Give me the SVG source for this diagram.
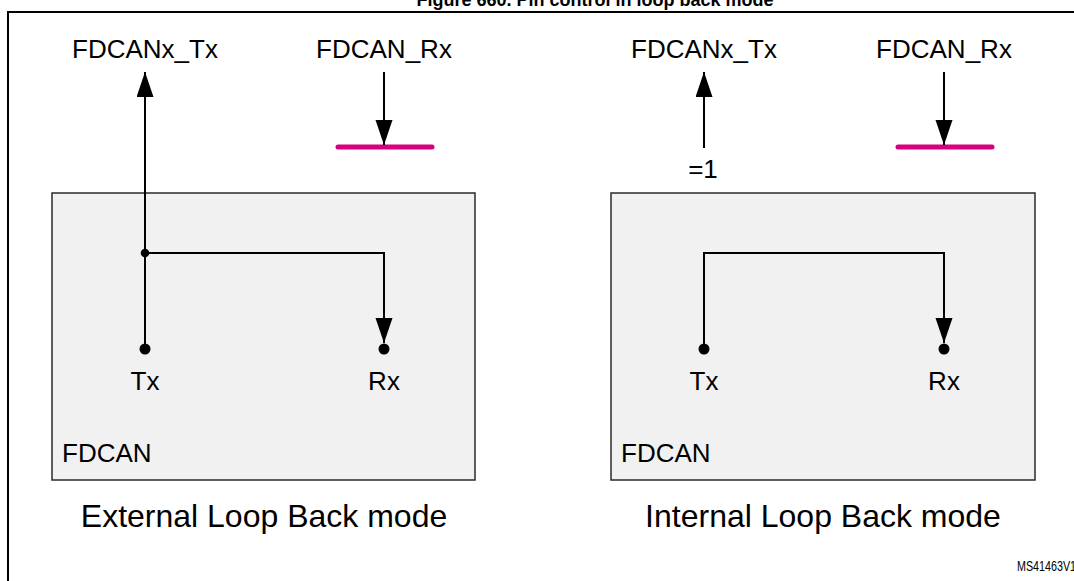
<svg xmlns="http://www.w3.org/2000/svg" width="1074" height="581" viewBox="0 0 1074 581">
  <style>
    .t { font-family: "Liberation Sans", Arial, sans-serif; fill: #000; }
    .lbl { font-size: 26px; }
    .cap { font-size: 32px; }
    .box { fill: #f1f1f1; stroke: #2a2a2a; stroke-width: 1.5; }
    .wire { fill: none; stroke: #000; stroke-width: 2; }
    .bar { stroke: #d6007f; stroke-width: 5; stroke-linecap: round; }
  </style>
  <defs>
    <marker id="ah" markerUnits="userSpaceOnUse" markerWidth="26" markerHeight="18" refX="25" refY="8.5" orient="auto">
      <path d="M0,0 L25,8.5 L0,17 Z" fill="#000"/>
    </marker>
  </defs>
  <rect width="1074" height="581" fill="#fff"/>
  <g id="frame">
    <path d="M8,600 V12 H1090" fill="none" stroke="#000" stroke-width="2"/>
  </g>
  <g id="title">
    <text class="t" x="595" y="5.5" font-size="18" font-weight="bold" text-anchor="middle">Figure 660. Pin control in loop back mode</text>
  </g>

  <g id="fdcan-external">
    <rect class="box" x="52" y="193" width="423" height="287"/>
    <text class="t lbl" x="62" y="462">FDCAN</text>
    <text class="t lbl" x="145" y="390" text-anchor="middle">Tx</text>
    <text class="t lbl" x="384" y="390" text-anchor="middle">Rx</text>
  </g>
  <g id="fdcan-internal">
    <rect class="box" x="611" y="193" width="424" height="287"/>
    <text class="t lbl" x="621" y="462">FDCAN</text>
    <text class="t lbl" x="704" y="390" text-anchor="middle">Tx</text>
    <text class="t lbl" x="944" y="390" text-anchor="middle">Rx</text>
  </g>

  <g id="pins-external">
    <text class="t lbl" x="145" y="58" text-anchor="middle">FDCANx_Tx</text>
    <text class="t lbl" x="384" y="58" text-anchor="middle">FDCAN_Rx</text>
    <line class="bar" x1="338" y1="147" x2="432" y2="147"/>
  </g>
  <g id="pins-internal">
    <text class="t lbl" x="704" y="58" text-anchor="middle">FDCANx_Tx</text>
    <text class="t lbl" x="944" y="58" text-anchor="middle">FDCAN_Rx</text>
    <text class="t lbl" x="703" y="178" text-anchor="middle">=1</text>
    <line class="bar" x1="898" y1="147" x2="992" y2="147"/>
  </g>

  <g id="connectors">
    <line class="wire" x1="145" y1="349" x2="145" y2="72" marker-end="url(#ah)"/>
    <path class="wire" d="M145,253 H384 V343" marker-end="url(#ah)"/>
    <line class="wire" x1="384" y1="72" x2="384" y2="145" marker-end="url(#ah)"/>
    <circle cx="145" cy="253" r="4.3" fill="#000"/>
    <circle cx="145" cy="349" r="5.5" fill="#000"/>
    <circle cx="384" cy="349" r="5.5" fill="#000"/>

    <line class="wire" x1="704" y1="148" x2="704" y2="72" marker-end="url(#ah)"/>
    <path class="wire" d="M704,349 V253 H944 V343" marker-end="url(#ah)"/>
    <line class="wire" x1="944" y1="72" x2="944" y2="145" marker-end="url(#ah)"/>
    <circle cx="704" cy="349" r="5.5" fill="#000"/>
    <circle cx="944" cy="349" r="5.5" fill="#000"/>
  </g>

  <g id="captions">
    <text class="t cap" x="264" y="527" text-anchor="middle">External Loop Back mode</text>
    <text class="t cap" x="823" y="527" text-anchor="middle">Internal Loop Back mode</text>
    <text class="t" x="1017" y="571" font-size="15" textLength="59" lengthAdjust="spacingAndGlyphs">MS41463V1</text>
  </g>
</svg>
